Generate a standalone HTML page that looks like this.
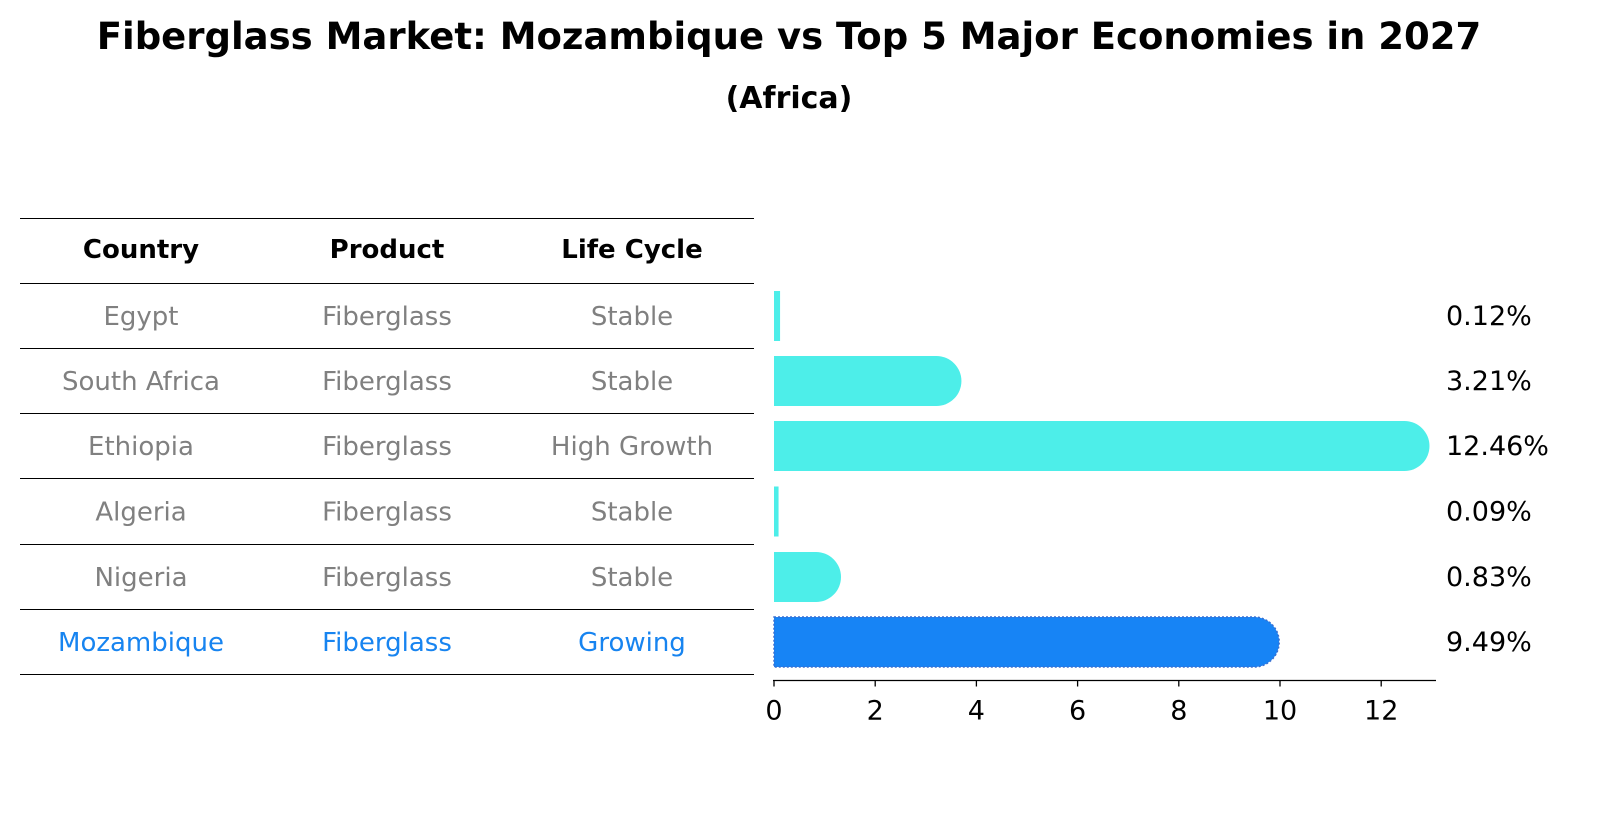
<!DOCTYPE html>
<html><head><meta charset="utf-8"><style>
body{margin:0;background:#fff;font-family:"Liberation Sans","DejaVu Sans",sans-serif}
svg text{font-family:"DejaVu Sans","Liberation Sans",sans-serif}
</style></head><body>
<svg id="c" width="1604" height="823" viewBox="0 0 1604 823" xmlns="http://www.w3.org/2000/svg">
<text x="789" y="49" text-anchor="middle" font-size="37" font-weight="bold">Fiberglass Market: Mozambique vs Top 5 Major Economies in 2027</text>
<text x="789" y="108" text-anchor="middle" font-size="30" font-weight="bold">(Africa)</text>
<g id="tbl"></g>
<g id="bars"></g>
</svg>
<script>
const countries=["Egypt","South Africa","Ethiopia","Algeria","Nigeria","Mozambique"];
const products=["Fiberglass","Fiberglass","Fiberglass","Fiberglass","Fiberglass","Fiberglass"];
const lifecycle=["Stable","Stable","High Growth","Stable","Stable","Growing"];
const values=[0.12,3.21,12.46,0.09,0.83,9.49];
const ticks=[0,2,4,6,8,10,12];
const NS="http://www.w3.org/2000/svg";
function mk(p,t,a,txt){const e=document.createElementNS(NS,t);for(const k in a)e.setAttribute(k,a[k]);if(txt!==undefined)e.textContent=txt;p.appendChild(e);return e;}
const tbl=document.getElementById('tbl'),bars=document.getElementById('bars');
const lineY=[218.5,283.5,348.5,413.5,478.5,544.5,609.5,674.5];
const colX=[141,387,632];
lineY.forEach((y,i)=>{const l=mk(tbl,'line',{x1:20,x2:754,y1:y,y2:y,stroke:'#000','stroke-width':1});

});
["Country","Product","Life Cycle"].forEach((h,j)=>{const t=mk(tbl,'text',{x:colX[j],y:258,'text-anchor':'middle','font-size':26,'font-weight':'bold'},h);

});
const x0=774,sc=50.6,axisY=680.5,bh=50;
function xs(v){return x0+v*sc;}
countries.forEach((c,i)=>{const cy=(lineY[i+1]+lineY[i+2])/2;const last=i===countries.length-1;const col=last?'#1784f0':'#808080';
[c,products[i],lifecycle[i]].forEach((s,j)=>{const t=mk(tbl,'text',{x:colX[j],y:cy+9,'text-anchor':'middle','font-size':26,fill:col},s);

});
const w=xs(values[i])-x0;const r=bh/2;const fill=last?'#1784f5':'#4deee9';let el;
if(w>r){const W=w+r;el=mk(bars,'path',{d:`M${x0},${cy-r} H${x0+W-r} A${r},${r} 0 0 1 ${x0+W-r},${cy+r} H${x0} Z`,fill:fill});
if(last){el.setAttribute('stroke','#3a6fd0');el.setAttribute('stroke-width','1.5');el.setAttribute('stroke-dasharray','2 2');}}
else{el=mk(bars,'rect',{x:x0,y:cy-r,width:Math.max(w,1),height:bh,fill:fill});}


const lb=mk(bars,'text',{x:1446,y:cy+9,'font-size':27},values[i].toFixed(2)+'%');

});
const ax=mk(bars,'line',{x1:x0-1,x2:1436,y1:axisY,y2:axisY,stroke:'#000','stroke-width':1.3});


ticks.forEach(t=>{const tk=mk(bars,'line',{x1:xs(t),x2:xs(t),y1:axisY,y2:axisY+6,stroke:'#000','stroke-width':1.3});


const tl=mk(bars,'text',{x:xs(t),y:axisY+39,'text-anchor':'middle','font-size':27},String(t));

});
</script>
</body></html>
